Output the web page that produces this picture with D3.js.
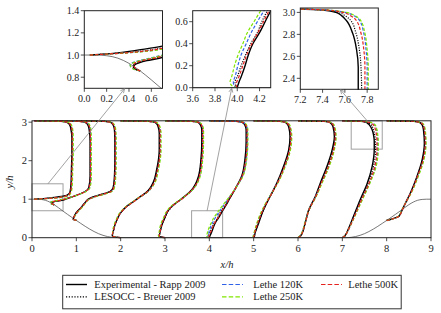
<!DOCTYPE html>
<html>
<head>
<meta charset="utf-8">
<script src="https://cdn.jsdelivr.net/npm/d3@7"></script>
<style>
  body { margin: 0; background: #fff; }
</style>
</head>
<body>
<div id="chart"></div>
<script>
// periodic hill, mean streamwise velocity profiles drawn as x/h + u/u_b

// profile stations (x/h)
const profileX = [0.05, 0.5, 1, 2, 3, 4, 5, 6, 7, 8]

// y/h levels of each profile (wall -> upper wall)
const profileY = [
  [1.0, 1.02, 1.04, 1.06, 1.08, 1.1, 1.15, 1.2, 1.4, 1.8, 2.2, 2.6, 2.8, 2.9, 2.96, 3.0, 3.02, 3.036],
  [0.857, 0.87, 0.89, 0.91, 0.93, 0.95, 0.97, 1.0, 1.05, 1.1, 1.2, 1.3, 1.6, 2.0, 2.5, 2.8, 2.9, 2.96, 3.0, 3.02, 3.036],
  [0.448, 0.48, 0.55, 0.65, 0.8, 0.9, 1.0, 1.05, 1.1, 1.15, 1.2, 1.3, 1.6, 2.0, 2.5, 2.8, 2.9, 2.96, 3.0, 3.02, 3.036],
  [0, 0.02, 0.05, 0.15, 0.33, 0.5, 0.63, 0.8, 0.94, 1.05, 1.19, 1.3, 1.45, 1.76, 2.28, 2.71, 2.9, 2.96, 3.0, 3.02, 3.036],
  [0, 0.02, 0.05, 0.1, 0.33, 0.5, 0.72, 0.85, 0.98, 1.1, 1.24, 1.4, 1.58, 2.02, 2.5, 2.8, 2.9, 2.96, 3.0, 3.02, 3.036],
  [0, 0.02, 0.05, 0.1, 0.2, 0.3, 0.4, 0.5, 0.6, 0.7, 0.85, 1.0, 1.3, 1.6, 2.0, 2.5, 2.8, 2.9, 2.96, 3.0, 3.02, 3.036],
  [0, 0.02, 0.05, 0.11, 0.37, 0.72, 1.07, 1.41, 1.84, 2.28, 2.62, 2.88, 2.96, 3.0, 3.02, 3.036],
  [0, 0.02, 0.05, 0.11, 0.37, 0.72, 1.07, 1.41, 1.84, 2.28, 2.62, 2.88, 2.96, 3.0, 3.02, 3.036],
  [0, 0.02, 0.07, 0.24, 0.55, 0.98, 1.41, 1.84, 2.3, 2.5, 2.66, 2.81, 2.93, 2.97, 3.0, 3.02, 3.03, 3.036],
  [0.448, 0.46, 0.5, 0.55, 0.72, 0.89, 1.15, 1.58, 2.02, 2.45, 2.8, 2.9, 2.96, 3.0, 3.02, 3.036]
]

// u/u_b, experiment (Rapp 2009)
const uRapp = [
  [0, 0.25, 0.40, 0.53, 0.65, 0.73, 0.79, 0.81, 0.83, 0.84, 0.85, 0.85, 0.83, 0.81, 0.78, 0.72, 0.6, 0],
  [0, -0.04, -0.06, -0.05, -0.01, 0.06, 0.17, 0.26, 0.38, 0.5, 0.7, 0.78, 0.81, 0.81, 0.81, 0.79, 0.77, 0.74, 0.68, 0.56, 0],
  [0, -0.07, -0.05, 0.0, 0.12, 0.19, 0.27, 0.36, 0.49, 0.64, 0.76, 0.83, 0.86, 0.87, 0.87, 0.86, 0.84, 0.81, 0.76, 0.62, 0],
  [0, -0.14, -0.19, -0.17, -0.13, -0.07, -0.01, 0.12, 0.29, 0.42, 0.59, 0.67, 0.74, 0.81, 0.87, 0.87, 0.84, 0.81, 0.76, 0.62, 0],
  [0, -0.10, -0.13, -0.12, -0.07, -0.01, 0.08, 0.19, 0.34, 0.47, 0.60, 0.69, 0.75, 0.81, 0.83, 0.83, 0.81, 0.78, 0.73, 0.60, 0],
  [0, 0.005, 0.015, 0.035, 0.07, 0.10, 0.14, 0.20, 0.25, 0.30, 0.38, 0.45, 0.60, 0.73, 0.80, 0.83, 0.83, 0.81, 0.78, 0.72, 0.60, 0],
  [0, 0.01, 0.02, 0.03, 0.11, 0.22, 0.37, 0.52, 0.67, 0.79, 0.82, 0.79, 0.75, 0.70, 0.58, 0],
  [0, 0.03, 0.06, 0.09, 0.16, 0.24, 0.39, 0.50, 0.65, 0.77, 0.82, 0.79, 0.75, 0.70, 0.58, 0],
  [0, 0.03, 0.07, 0.14, 0.25, 0.40, 0.56, 0.67, 0.72, 0.72, 0.705, 0.67, 0.61, 0.57, 0.52, 0.42, 0.2, 0],
  [0, 0.04, 0.16, 0.27, 0.35, 0.42, 0.53, 0.68, 0.80, 0.85, 0.83, 0.81, 0.78, 0.72, 0.60, 0]
]

// LESOCC (Breuer 2009)
const uBreuer = [
  [0, 0.3, 0.5, 0.62, 0.70, 0.75, 0.8, 0.82, 0.84, 0.85, 0.86, 0.86, 0.84, 0.82, 0.79, 0.73, 0.6, 0],
  [0, -0.04, -0.06, -0.06, -0.03, 0.03, 0.13, 0.24, 0.37, 0.5, 0.7, 0.79, 0.82, 0.82, 0.82, 0.80, 0.78, 0.75, 0.69, 0.57, 0],
  [0, -0.07, -0.05, 0.0, 0.12, 0.19, 0.28, 0.37, 0.5, 0.65, 0.77, 0.84, 0.87, 0.88, 0.88, 0.87, 0.85, 0.82, 0.77, 0.63, 0],
  [0, -0.15, -0.19, -0.17, -0.13, -0.07, -0.01, 0.13, 0.30, 0.43, 0.60, 0.68, 0.75, 0.82, 0.88, 0.88, 0.85, 0.82, 0.77, 0.63, 0],
  [0, -0.10, -0.13, -0.12, -0.07, -0.01, 0.09, 0.20, 0.35, 0.48, 0.61, 0.70, 0.76, 0.82, 0.84, 0.84, 0.82, 0.79, 0.74, 0.61, 0],
  [0, -0.015, -0.02, 0.0, 0.035, 0.075, 0.12, 0.18, 0.22, 0.27, 0.36, 0.44, 0.60, 0.74, 0.81, 0.85, 0.85, 0.83, 0.80, 0.74, 0.61, 0],
  [0, 0.0, 0.01, 0.025, 0.10, 0.22, 0.37, 0.53, 0.69, 0.80, 0.83, 0.80, 0.76, 0.71, 0.59, 0],
  [0, 0.03, 0.06, 0.09, 0.16, 0.25, 0.40, 0.52, 0.67, 0.79, 0.83, 0.80, 0.76, 0.71, 0.59, 0],
  [0, 0.03, 0.07, 0.15, 0.26, 0.42, 0.58, 0.70, 0.75, 0.745, 0.73, 0.70, 0.65, 0.6, 0.54, 0.44, 0.21, 0],
  [0, 0.05, 0.17, 0.27, 0.35, 0.42, 0.54, 0.69, 0.81, 0.86, 0.84, 0.82, 0.79, 0.73, 0.61, 0]
]

// Lethe 120K
const uLethe120 = [
  [0, 0.33, 0.55, 0.66, 0.73, 0.77, 0.81, 0.83, 0.85, 0.86, 0.87, 0.87, 0.86, 0.84, 0.81, 0.75, 0.62, 0],
  [0, -0.05, -0.08, -0.09, -0.07, -0.01, 0.08, 0.2, 0.36, 0.5, 0.71, 0.8, 0.83, 0.83, 0.83, 0.82, 0.8, 0.77, 0.71, 0.58, 0],
  [0, -0.06, -0.04, 0.02, 0.13, 0.2, 0.29, 0.39, 0.53, 0.68, 0.79, 0.85, 0.88, 0.89, 0.89, 0.88, 0.86, 0.83, 0.78, 0.64, 0],
  [0, -0.13, -0.18, -0.17, -0.14, -0.08, -0.02, 0.12, 0.29, 0.43, 0.61, 0.70, 0.77, 0.84, 0.90, 0.90, 0.87, 0.84, 0.78, 0.64, 0],
  [0, -0.11, -0.14, -0.13, -0.09, -0.03, 0.07, 0.18, 0.34, 0.48, 0.62, 0.72, 0.78, 0.84, 0.86, 0.86, 0.84, 0.81, 0.75, 0.62, 0],
  [0, -0.03, -0.035, -0.02, 0.005, 0.035, 0.08, 0.125, 0.18, 0.24, 0.33, 0.42, 0.60, 0.75, 0.83, 0.86, 0.86, 0.84, 0.81, 0.75, 0.62, 0],
  [0, -0.01, -0.005, 0.01, 0.08, 0.20, 0.36, 0.53, 0.70, 0.82, 0.85, 0.82, 0.78, 0.72, 0.60, 0],
  [0, 0.02, 0.05, 0.08, 0.15, 0.25, 0.40, 0.53, 0.69, 0.81, 0.85, 0.82, 0.78, 0.72, 0.60, 0],
  [0, 0.03, 0.07, 0.15, 0.27, 0.44, 0.61, 0.75, 0.80, 0.80, 0.79, 0.77, 0.73, 0.68, 0.6, 0.46, 0.22, 0],
  [0, 0.05, 0.17, 0.26, 0.34, 0.42, 0.54, 0.70, 0.83, 0.88, 0.86, 0.84, 0.81, 0.75, 0.62, 0]
]

// Lethe 250K
const uLethe250 = [
  [0, 0.34, 0.56, 0.67, 0.74, 0.78, 0.82, 0.84, 0.86, 0.87, 0.88, 0.88, 0.87, 0.85, 0.82, 0.76, 0.63, 0],
  [0, -0.05, -0.08, -0.09, -0.06, 0.0, 0.09, 0.21, 0.37, 0.51, 0.72, 0.81, 0.84, 0.84, 0.84, 0.83, 0.81, 0.78, 0.72, 0.59, 0],
  [0, -0.06, -0.04, 0.02, 0.14, 0.21, 0.3, 0.4, 0.54, 0.69, 0.8, 0.86, 0.89, 0.9, 0.9, 0.89, 0.87, 0.84, 0.79, 0.65, 0],
  [0, -0.13, -0.18, -0.18, -0.15, -0.09, -0.03, 0.11, 0.28, 0.42, 0.61, 0.70, 0.78, 0.85, 0.91, 0.91, 0.88, 0.85, 0.79, 0.65, 0],
  [0, -0.12, -0.15, -0.14, -0.10, -0.04, 0.06, 0.17, 0.33, 0.48, 0.62, 0.72, 0.79, 0.85, 0.87, 0.87, 0.85, 0.82, 0.76, 0.63, 0],
  [0, -0.05, -0.065, -0.05, -0.025, 0.008, 0.05, 0.09, 0.15, 0.21, 0.31, 0.41, 0.60, 0.76, 0.84, 0.87, 0.87, 0.85, 0.82, 0.76, 0.63, 0],
  [0, -0.015, -0.01, 0.005, 0.07, 0.19, 0.36, 0.54, 0.71, 0.83, 0.86, 0.83, 0.79, 0.73, 0.61, 0],
  [0, 0.02, 0.05, 0.08, 0.15, 0.25, 0.41, 0.54, 0.70, 0.82, 0.86, 0.83, 0.79, 0.73, 0.61, 0],
  [0, 0.03, 0.07, 0.15, 0.28, 0.45, 0.62, 0.76, 0.81, 0.81, 0.80, 0.78, 0.74, 0.69, 0.61, 0.46, 0.22, 0],
  [0, 0.05, 0.17, 0.26, 0.34, 0.42, 0.55, 0.71, 0.84, 0.89, 0.87, 0.85, 0.82, 0.76, 0.63, 0]
]

// Lethe 500K
const uLethe500 = [
  [0, 0.32, 0.52, 0.64, 0.71, 0.76, 0.80, 0.82, 0.84, 0.85, 0.86, 0.86, 0.85, 0.83, 0.80, 0.74, 0.61, 0],
  [0, -0.03, -0.05, -0.06, -0.04, 0.02, 0.12, 0.23, 0.37, 0.5, 0.7, 0.79, 0.82, 0.82, 0.82, 0.81, 0.79, 0.76, 0.7, 0.57, 0],
  [0, -0.07, -0.05, 0.01, 0.12, 0.2, 0.28, 0.38, 0.52, 0.66, 0.78, 0.84, 0.87, 0.88, 0.88, 0.87, 0.85, 0.82, 0.77, 0.63, 0],
  [0, -0.14, -0.19, -0.17, -0.13, -0.07, -0.01, 0.13, 0.30, 0.43, 0.60, 0.69, 0.76, 0.83, 0.89, 0.89, 0.86, 0.83, 0.77, 0.63, 0],
  [0, -0.10, -0.13, -0.12, -0.08, -0.02, 0.08, 0.19, 0.35, 0.48, 0.61, 0.71, 0.77, 0.83, 0.85, 0.85, 0.83, 0.80, 0.74, 0.61, 0],
  [0, -0.01, -0.005, 0.015, 0.05, 0.085, 0.13, 0.185, 0.235, 0.285, 0.37, 0.44, 0.60, 0.74, 0.82, 0.85, 0.85, 0.83, 0.80, 0.74, 0.61, 0],
  [0, 0.0, 0.01, 0.02, 0.09, 0.21, 0.37, 0.53, 0.69, 0.81, 0.84, 0.81, 0.77, 0.71, 0.59, 0],
  [0, 0.03, 0.06, 0.09, 0.16, 0.25, 0.40, 0.52, 0.68, 0.80, 0.84, 0.81, 0.77, 0.71, 0.59, 0],
  [0, 0.03, 0.07, 0.15, 0.27, 0.43, 0.6, 0.73, 0.78, 0.78, 0.77, 0.745, 0.70, 0.65, 0.58, 0.45, 0.22, 0],
  [0, 0.05, 0.16, 0.27, 0.35, 0.42, 0.54, 0.69, 0.82, 0.87, 0.85, 0.83, 0.80, 0.74, 0.61, 0]
]

// lower wall (hills)
const hillLeftX  = [0, 0.1, 0.2, 0.3, 0.4, 0.5, 0.6, 0.7, 0.8, 0.9, 1.0, 1.1, 1.2, 1.3, 1.4, 1.5, 1.6, 1.7, 1.8, 1.93]
const hillLeftY  = [1, 1, 0.994, 0.972, 0.925, 0.857, 0.776, 0.69, 0.607, 0.527, 0.448, 0.371, 0.295, 0.224, 0.16, 0.105, 0.062, 0.03, 0.01, 0]
const hillRightX = [7.07, 7.2, 7.3, 7.4, 7.5, 7.6, 7.7, 7.8, 7.9, 8.0, 8.1, 8.2, 8.3, 8.4, 8.5, 8.6, 8.7, 8.8, 8.9, 9.0]
const hillRightY = [0, 0.01, 0.03, 0.062, 0.105, 0.16, 0.224, 0.295, 0.371, 0.448, 0.527, 0.607, 0.69, 0.776, 0.857, 0.925, 0.972, 0.994, 1, 1]

// axes
const mainXTicks = [0, 1, 2, 3, 4, 5, 6, 7, 8, 9]
const mainYTicks = [0, 1, 2, 3]
const insetXRange = [[0, 0.7], [3.6, 4.3], [7.2, 7.9]]
const insetYRange = [[0.7, 1.4], [0, 0.7], [2.3, 3.04]]
const insetXTicks = [[0.0, 0.2, 0.4, 0.6], [3.6, 3.8, 4.0, 4.2], [7.2, 7.4, 7.6, 7.8]]
const insetYTicks = [[0.8, 1.0, 1.2, 1.4], [0.0, 0.2, 0.4, 0.6], [2.4, 2.6, 2.8, 3.0]]
const insetArrowX = [0.36, 3.95, 7.56]

const seriesNames = ["Experimental - Rapp 2009", "LESOCC - Breuer 2009", "Lethe 120K", "Lethe 250K", "Lethe 500K"]

const series = [
  { name: seriesNames[0], u: uRapp,     color: "#000",    dash: null,       width: 1.4 },
  { name: seriesNames[1], u: uBreuer,   color: "#000",    dash: "1.1,1.4",  width: 1.2 },
  { name: seriesNames[2], u: uLethe120, color: "#2f62e8", dash: "3.2,1.8",  width: 1.2 },
  { name: seriesNames[3], u: uLethe250, color: "#80e600", dash: "3.2,1.8",  width: 1.2 },
  { name: seriesNames[4], u: uLethe500, color: "#e6221e", dash: "3.2,1.8",  width: 1.2 }
]

const FONT = "'Liberation Serif', 'Times New Roman', serif"
const W = 441, H = 313
const svg = d3.select("#chart").append("svg").attr("width", W).attr("height", H)
  .attr("font-family", FONT)

const frameColor = "#222"

function addText(sel, size) {
  return sel.append("text").attr("font-family", FONT).attr("fill", "#222")
    .style("font-size", size + "px")
}

// draws hill + all profiles for one set of scales, clipped to the box
function drawPanel(x, y, clipId) {
  const [x0, x1] = x.range()
  const [y0, y1] = y.range()
  svg.append("clipPath").attr("id", clipId)
    .append("rect").attr("x", x0).attr("y", y1 - 0.8)
    .attr("width", x1 - x0).attr("height", y0 - y1 + 1.6)

  const inner = svg.append("g").attr("clip-path", `url(#${clipId})`)

  const hillPts = hillLeftX.map((v, i) => [v, hillLeftY[i]])
    .concat(hillRightX.map((v, i) => [v, hillRightY[i]]))
  inner.append("path").datum(hillPts)
    .attr("d", d3.line().x(d => x(d[0])).y(d => y(d[1])).curve(d3.curveMonotoneX))
    .attr("fill", "none").attr("stroke", "#555").attr("stroke-width", 0.8)

  const line = d3.line().x(d => x(d[0])).y(d => y(d[1])).curve(d3.curveMonotoneY)

  series.forEach(s => {
    profileX.forEach((px, i) => {
      const pts = profileY[i].map((yy, j) => [px + s.u[i][j], yy])
      inner.append("path").datum(pts).attr("d", line)
        .attr("fill", "none").attr("stroke", s.color)
        .attr("stroke-width", s.width)
        .attr("stroke-dasharray", s.dash)
    })
  })

  // frame on top
  svg.append("rect").attr("x", x0).attr("y", y1)
    .attr("width", x1 - x0).attr("height", y0 - y1)
    .attr("fill", "none").attr("stroke", frameColor).attr("stroke-width", 1)
}

function drawTicks(x, y, xt, yt, fmt, fs) {
  const [x0] = x.range()
  const [y0] = y.range()
  xt.forEach(t => {
    svg.append("line").attr("x1", x(t)).attr("x2", x(t)).attr("y1", y0).attr("y2", y0 + 3.5)
      .attr("stroke", frameColor).attr("stroke-width", 0.8)
    addText(svg, fs).attr("x", x(t)).attr("y", y0 + 4 + fs)
      .attr("text-anchor", "middle").text(fmt(t))
  })
  yt.forEach(t => {
    svg.append("line").attr("x1", x0 - 3.5).attr("x2", x0).attr("y1", y(t)).attr("y2", y(t))
      .attr("stroke", frameColor).attr("stroke-width", 0.8)
    addText(svg, fs).attr("x", x0 - 5).attr("y", y(t) + fs * 0.35)
      .attr("text-anchor", "end").text(fmt(t))
  })
}

// main plot
const xMain = d3.scaleLinear().domain([0, 9]).range([32, 431])
const yMain = d3.scaleLinear().domain([0, 3.036]).range([237.7, 120.8])

// inset boxes inside main plot
const insetPx = [[84.3, 162.5], [192.7, 270.7], [300.3, 378.3]]
const insetPy = [[88.3, 10.7], [87.7, 10.7], [89.3, 8]]

insetXRange.forEach((xr, k) => {
  svg.append("rect")
    .attr("x", xMain(xr[0])).attr("y", yMain(Math.min(insetYRange[k][1], 3.036)))
    .attr("width", xMain(xr[1]) - xMain(xr[0]))
    .attr("height", yMain(insetYRange[k][0]) - yMain(Math.min(insetYRange[k][1], 3.036)))
    .attr("fill", "none").attr("stroke", "#a0a0a0").attr("stroke-width", 1)
})

drawPanel(xMain, yMain, "clipMain")
drawTicks(xMain, yMain, mainXTicks, mainYTicks, d3.format("d"), 10.5)

addText(svg, 10.5).attr("x", 227).attr("y", 268)
  .attr("text-anchor", "middle").style("font-style", "italic")
  .text("x/h")
addText(svg, 10.5).attr("transform", "translate(13,182) rotate(-90)")
  .attr("text-anchor", "middle").style("font-style", "italic")
  .text("y/h")

// insets
const insetScales = insetXRange.map((xr, k) => ({
  x: d3.scaleLinear().domain(xr).range(insetPx[k]),
  y: d3.scaleLinear().domain(insetYRange[k]).range(insetPy[k])
}))

insetScales.forEach((sc, k) => {
  drawPanel(sc.x, sc.y, "clipInset" + k)
  drawTicks(sc.x, sc.y, insetXTicks[k], insetYTicks[k], d3.format(".1f"), 10)
})

// connector arrows: from the box in the main plot up to the inset
insetArrowX.forEach((ax, k) => {
  const sx = xMain(ax), sy = yMain(Math.min(insetYRange[k][1], 3.036))
  const ex = insetScales[k].x(ax), ey = insetPy[k][0] + 0.5
  svg.append("line").attr("x1", sx).attr("y1", sy).attr("x2", ex).attr("y2", ey)
    .attr("stroke", "#8a8a8a").attr("stroke-width", 0.8)
  const ang = Math.atan2(ey - sy, ex - sx)
  ;[-0.45, 0.45].forEach(da => {
    svg.append("line").attr("x1", ex).attr("y1", ey)
      .attr("x2", ex - 4.5 * Math.cos(ang + da)).attr("y2", ey - 4.5 * Math.sin(ang + da))
      .attr("stroke", "#8a8a8a").attr("stroke-width", 0.8)
  })
})

// legend
const legend = svg.append("g")
legend.append("rect").attr("x", 62.7).attr("y", 275.3).attr("width", 338.5).attr("height", 33.5)
  .attr("fill", "#fff").attr("stroke", "#333").attr("stroke-width", 1)

const legPos = [[0, 0], [0, 1], [1, 0], [1, 1], [2, 0]]
const colX = [66, 222, 321]
const colTextX = [94.3, 253.3, 348.3]
const rowY = [284.5, 296.8]

series.forEach((s, i) => {
  const [c, r] = legPos[i]
  legend.append("line").attr("x1", colX[c]).attr("x2", colX[c] + 21)
    .attr("y1", rowY[r]).attr("y2", rowY[r])
    .attr("stroke", s.color).attr("stroke-width", s.width)
    .attr("stroke-dasharray", s.dash ? (i === 1 ? "1.2,1.6" : "4.5,2.2") : null)
  addText(legend, 10.5).attr("x", colTextX[c]).attr("y", rowY[r] + 3.6)
    .text(s.name)
})
</script>
</body>
</html>
